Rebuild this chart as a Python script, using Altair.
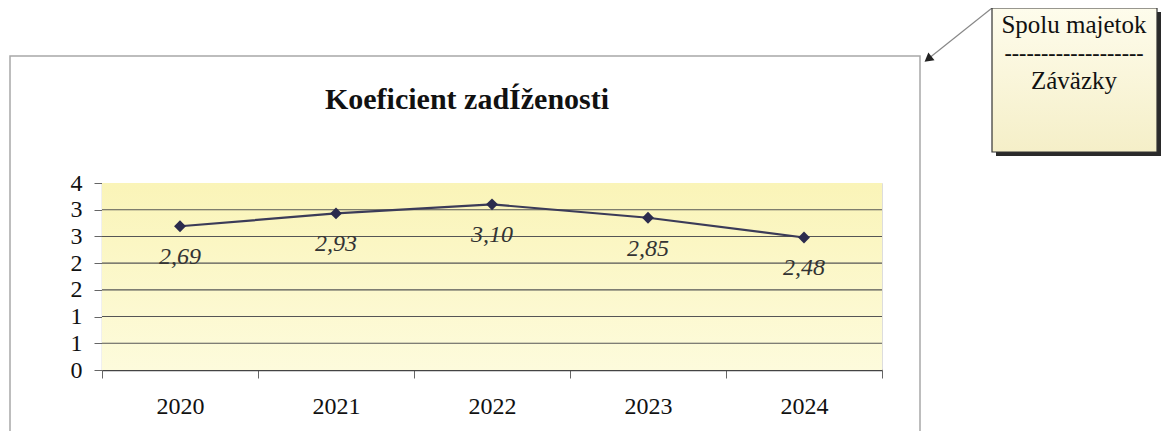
import altair as alt
import pandas as pd

# ---- data ----
years = ["2020", "2021", "2022", "2023", "2024"]
values = [2.69, 2.93, 3.10, 2.85, 2.48]
labels = ["2,69", "2,93", "3,10", "2,85", "2,48"]
y_ticks = [0, 0.5, 1, 1.5, 2, 2.5, 3, 3.5]

title_text = "Koeficient zadÍženosti"
callout_top = "Spolu majetok"
callout_sep = "-------------------"
callout_bottom = "Záväzky"

df = pd.DataFrame({"year": years, "value": values, "label": labels})
grid_df = pd.DataFrame({"value": y_ticks[1:-1]})

SERIF = "Liberation Serif"
W, H = 780, 187

x_enc = alt.X("year:O", title=None,
              scale=alt.Scale(paddingInner=0, paddingOuter=0),
              axis=alt.Axis(labelAngle=0, tickBand="extent", labelFont=SERIF,
                            labelFontSize=24, labelColor="#111", labelPadding=16,
                            tickSize=8, tickColor="#666", domainColor="#444",
                            domainWidth=1.5, grid=False))
y_scale = alt.Scale(domain=[0, 3.5], nice=False, zero=True)
y_axis = alt.Axis(values=y_ticks, labelExpr="round(datum.value)",
                  labelOverlap=False, labelBound=False, labelFlush=False,
                  labelFont=SERIF, labelFontSize=24, labelColor="#111",
                  labelPadding=12, tickSize=8, tickColor="#666",
                  domainColor="#666", domainWidth=1.2, grid=False)
y_enc = alt.Y("value:Q", title=None, scale=y_scale, axis=y_axis)

one = alt.Data(values=[{}])

# plot background gradient
bg = alt.Chart(one).mark_rect(
    color=alt.Gradient(gradient="linear",
                       stops=[alt.GradientStop(color="#faf4b8", offset=0),
                              alt.GradientStop(color="#fdfbdc", offset=1)],
                       x1=0, x2=0, y1=0, y2=1)
).encode(x=alt.value(0), x2=alt.value(W), y=alt.value(0), y2=alt.value(H))

grid = alt.Chart(grid_df).mark_rule(color="#555555", strokeWidth=1.1).encode(y=y_enc)

# outer frame of the chart object
frame = alt.Chart(one).mark_rect(fill=None, stroke="#a8a8a8", strokeWidth=1.5).encode(
    x=alt.value(-92), x2=alt.value(818), y=alt.value(-127), y2=alt.value(270))

# callout box with shadow
shadow = alt.Chart(one).mark_rect(color="#2a2a2a").encode(
    x=alt.value(894), x2=alt.value(1059), y=alt.value(-171), y2=alt.value(-27))
box = alt.Chart(one).mark_rect(
    stroke="#333", strokeWidth=1.2,
    color=alt.Gradient(gradient="linear",
                       stops=[alt.GradientStop(color="#fefcec", offset=0),
                              alt.GradientStop(color="#f5efc8", offset=1)],
                       x1=0, x2=0, y1=0, y2=1)
).encode(x=alt.value(890), x2=alt.value(1055), y=alt.value(-175), y2=alt.value(-31))

arrow_line = alt.Chart(one).mark_rule(color="#888", strokeWidth=1.2).encode(
    x=alt.value(890), y=alt.value(-175), x2=alt.value(826), y2=alt.value(-124))
arrow_head = alt.Chart(one).mark_point(shape="triangle-up", filled=True, color="#222",
                                       size=100, angle=232, opacity=1).encode(
    x=alt.value(826), y=alt.value(-124))

t1 = alt.Chart(one).mark_text(text=callout_top, font=SERIF, fontSize=25, color="#111",
                              baseline="middle").encode(x=alt.value(972), y=alt.value(-158))
t2 = alt.Chart(one).mark_text(text=callout_sep, font=SERIF, fontSize=22, fontWeight="bold",
                              color="#111", baseline="middle").encode(x=alt.value(972), y=alt.value(-130))
t3 = alt.Chart(one).mark_text(text=callout_bottom, font=SERIF, fontSize=25, color="#111",
                              baseline="middle").encode(x=alt.value(972), y=alt.value(-102))

title = alt.Chart(one).mark_text(text=title_text, font=SERIF, fontSize=30, fontWeight="bold",
                                 color="#111", baseline="alphabetic").encode(
    x=alt.value(365), y=alt.value(-74))

base = alt.Chart(df)
line = base.mark_line(color="#3b3b58", strokeWidth=2.2).encode(x=x_enc, y=y_enc)
pts = base.mark_point(shape="diamond", filled=True, color="#2b2b4d", size=140, opacity=1).encode(
    x=x_enc, y=y_enc)
txt = base.mark_text(font=SERIF, fontSize=24, fontStyle="italic", color="#333",
                     baseline="middle", dy=31).encode(x=x_enc, y=y_enc, text="label:N")

chart = alt.layer(frame, bg, grid, line, pts, txt, title, arrow_line, shadow, box, t1, t2, t3,
                  arrow_head).properties(
    width=W, height=H,
    autosize=alt.AutoSizeParams(type="none"),
    padding={"left": 94, "top": 175, "right": 279, "bottom": 61},
).configure_view(stroke="#a0a0a0", strokeWidth=2).configure(background="white")

chart.save("out.html", embed_options={"renderer": "svg", "actions": False})
